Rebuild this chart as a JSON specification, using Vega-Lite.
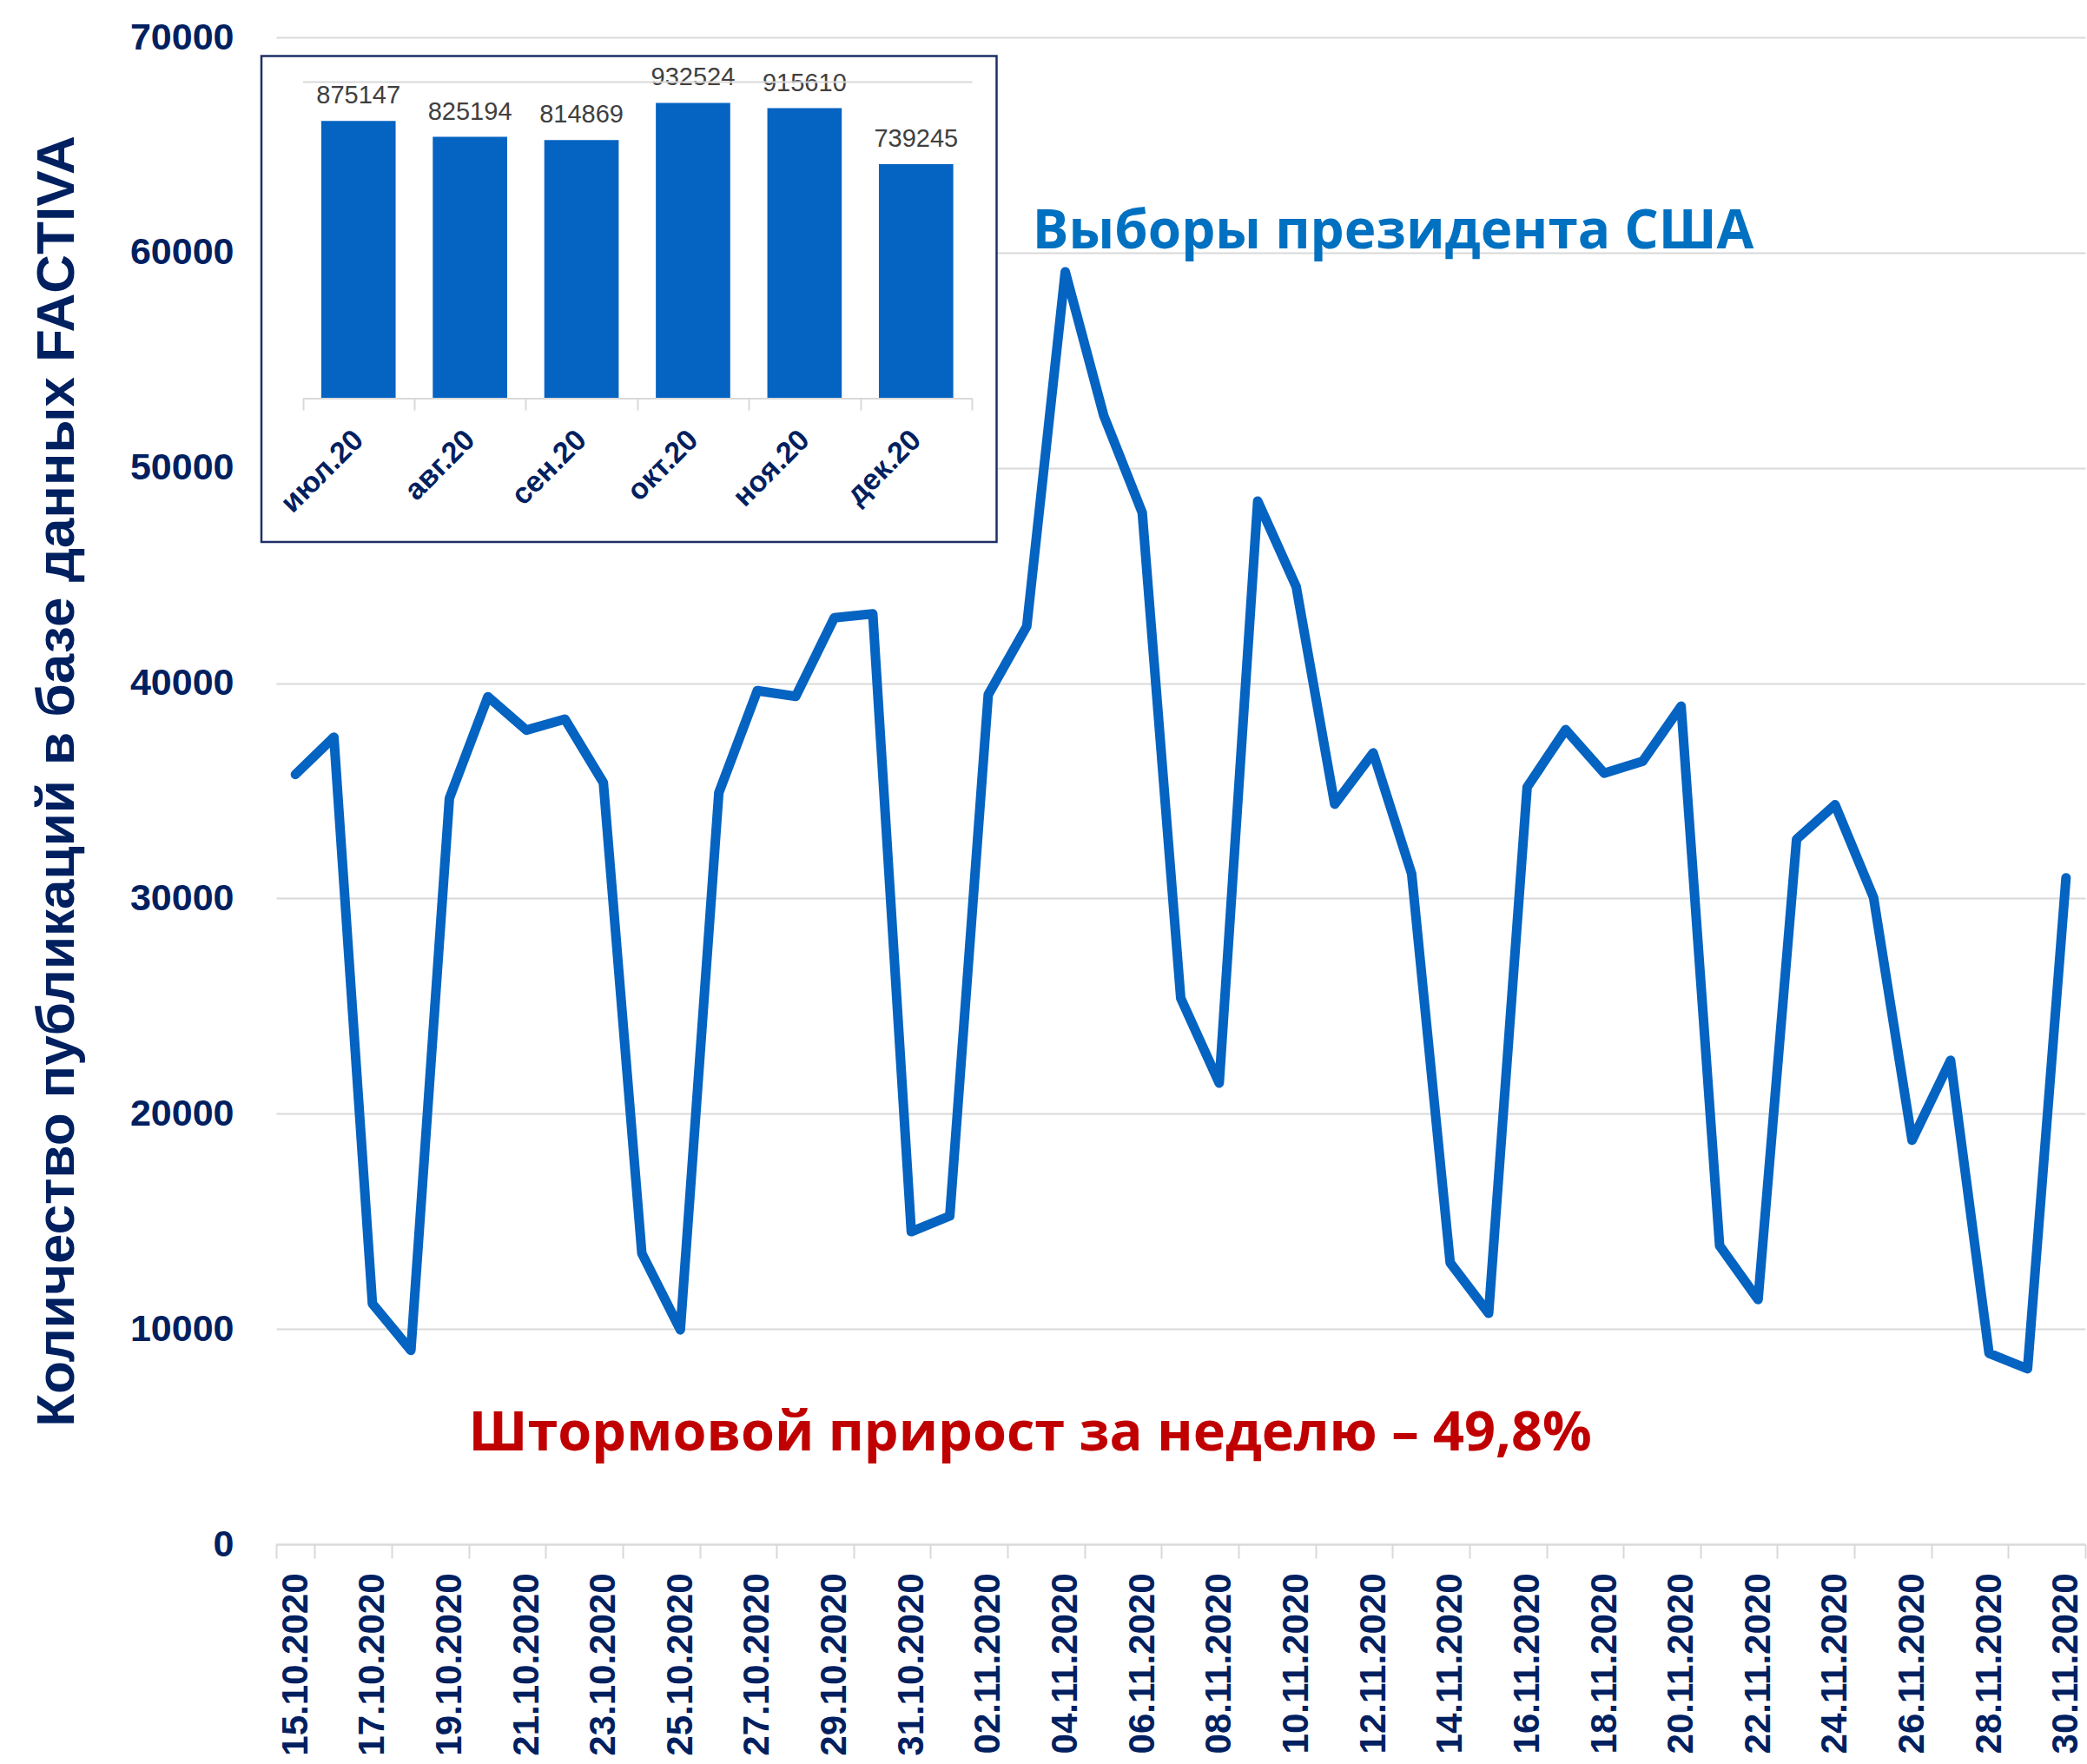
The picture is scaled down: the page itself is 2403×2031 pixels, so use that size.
{
  "$schema": "https://vega.github.io/schema/vega-lite/v6.json",
  "width": 2083,
  "height": 1735,
  "autosize": {"type": "none"},
  "padding": {"left": 318, "top": 43, "right": 2, "bottom": 253},
  "background": "white",
  "config": {"view": {"stroke": null}, "font": "Liberation Sans"},
  "datasets": {
    "daily": [
      {"date": "15.10.2020", "value": 35760},
      {"date": "16.10.2020", "value": 37490},
      {"date": "17.10.2020", "value": 11180},
      {"date": "18.10.2020", "value": 9010},
      {"date": "19.10.2020", "value": 34650},
      {"date": "20.10.2020", "value": 39370},
      {"date": "21.10.2020", "value": 37820},
      {"date": "22.10.2020", "value": 38330},
      {"date": "23.10.2020", "value": 35380},
      {"date": "24.10.2020", "value": 13510},
      {"date": "25.10.2020", "value": 9960},
      {"date": "26.10.2020", "value": 34910},
      {"date": "27.10.2020", "value": 39650},
      {"date": "28.10.2020", "value": 39390},
      {"date": "29.10.2020", "value": 43040},
      {"date": "30.10.2020", "value": 43220},
      {"date": "31.10.2020", "value": 14520},
      {"date": "01.11.2020", "value": 15250},
      {"date": "02.11.2020", "value": 39470},
      {"date": "03.11.2020", "value": 42640},
      {"date": "04.11.2020", "value": 59110},
      {"date": "05.11.2020", "value": 52430},
      {"date": "06.11.2020", "value": 47920},
      {"date": "07.11.2020", "value": 25370},
      {"date": "08.11.2020", "value": 21420},
      {"date": "09.11.2020", "value": 48460},
      {"date": "10.11.2020", "value": 44480},
      {"date": "11.11.2020", "value": 34380},
      {"date": "12.11.2020", "value": 36760},
      {"date": "13.11.2020", "value": 31140},
      {"date": "14.11.2020", "value": 13080},
      {"date": "15.11.2020", "value": 10730},
      {"date": "16.11.2020", "value": 35170},
      {"date": "17.11.2020", "value": 37840},
      {"date": "18.11.2020", "value": 35820},
      {"date": "19.11.2020", "value": 36370},
      {"date": "20.11.2020", "value": 38930},
      {"date": "21.11.2020", "value": 13870},
      {"date": "22.11.2020", "value": 11370},
      {"date": "23.11.2020", "value": 32750},
      {"date": "24.11.2020", "value": 34350},
      {"date": "25.11.2020", "value": 30040},
      {"date": "26.11.2020", "value": 18770},
      {"date": "27.11.2020", "value": 22480},
      {"date": "28.11.2020", "value": 8870},
      {"date": "29.11.2020", "value": 8150},
      {"date": "30.11.2020", "value": 30960}
    ],
    "notes": [
      {"date": "12.11.2020", "value": 60200, "label": "Выборы президента США", "kind": "blue"},
      {"date": "03.11.2020", "value": 4360, "label": "Штормовой прирост за неделю – 49,8%", "kind": "red"}
    ],
    "monthly": [
      {"month": "июл.20", "count": 875147},
      {"month": "авг.20", "count": 825194},
      {"month": "сен.20", "count": 814869},
      {"month": "окт.20", "count": 932524},
      {"month": "ноя.20", "count": 915610},
      {"month": "дек.20", "count": 739245}
    ],
    "frame": [{"x0": 0, "x1": 1, "y0": 0, "y1": 1}]
  },
  "layer": [
    {
      "encoding": {
        "x": {
          "field": "date",
          "type": "nominal",
          "sort": null,
          "scale": {
            "type": "band",
            "paddingInner": 0,
            "paddingOuter": 0,
            "domain": ["15.10.2020","16.10.2020","17.10.2020","18.10.2020","19.10.2020","20.10.2020","21.10.2020","22.10.2020","23.10.2020","24.10.2020","25.10.2020","26.10.2020","27.10.2020","28.10.2020","29.10.2020","30.10.2020","31.10.2020","01.11.2020","02.11.2020","03.11.2020","04.11.2020","05.11.2020","06.11.2020","07.11.2020","08.11.2020","09.11.2020","10.11.2020","11.11.2020","12.11.2020","13.11.2020","14.11.2020","15.11.2020","16.11.2020","17.11.2020","18.11.2020","19.11.2020","20.11.2020","21.11.2020","22.11.2020","23.11.2020","24.11.2020","25.11.2020","26.11.2020","27.11.2020","28.11.2020","29.11.2020","30.11.2020"]
          },
          "axis": {
            "orient": "bottom",
            "values": ["15.10.2020","17.10.2020","19.10.2020","21.10.2020","23.10.2020","25.10.2020","27.10.2020","29.10.2020","31.10.2020","02.11.2020","04.11.2020","06.11.2020","08.11.2020","10.11.2020","12.11.2020","14.11.2020","16.11.2020","18.11.2020","20.11.2020","22.11.2020","24.11.2020","26.11.2020","28.11.2020","30.11.2020"],
            "tickBand": "extent",
            "title": null,
            "grid": false,
            "labelAngle": 270,
            "labelAlign": "right",
            "labelBaseline": "middle",
            "labelFont": "Liberation Sans",
            "labelFontWeight": "bold",
            "labelFontSize": 42,
            "labelColor": "#002060",
            "labelPadding": 17,
            "labelLimit": 0,
            "labelOverlap": false,
            "labelBound": false,
            "tickColor": "#D9D9D9",
            "tickSize": 16,
            "tickWidth": 2,
            "domainColor": "#D9D9D9",
            "domainWidth": 2
          }
        },
        "y": {
          "field": "value",
          "type": "quantitative",
          "scale": {"domain": [0, 70000], "nice": false, "zero": true},
          "axis": {
            "orient": "left",
            "values": [0, 10000, 20000, 30000, 40000, 50000, 60000, 70000],
            "format": "d",
            "grid": true,
            "gridColor": "#D9D9D9",
            "gridWidth": 2,
            "domain": false,
            "ticks": false,
            "labelFont": "Liberation Sans",
            "labelFontWeight": "bold",
            "labelFontSize": 43,
            "labelColor": "#002060",
            "labelPadding": 49,
            "labelBaseline": "middle",
            "title": "Количество публикаций в базе данных FACTIVA",
            "titleFont": "Liberation Sans",
            "titleFontWeight": "bold",
            "titleFontSize": 62,
            "titleColor": "#002060",
            "titleAngle": 270,
            "titleAlign": "center",
            "titleBaseline": "alphabetic",
            "titleLimit": 0,
            "titleX": -234,
            "titleY": 856
          }
        }
      },
      "layer": [
        {
          "data": {"name": "daily"},
          "mark": {"type": "line", "color": "#0563C1", "strokeWidth": 11, "strokeJoin": "round", "strokeCap": "round"}
        },
        {
          "data": {"name": "notes"},
          "transform": [{"filter": "datum.kind === 'blue'"}],
          "mark": {"type": "text", "align": "center", "baseline": "alphabetic", "font": "Open Sans", "fontWeight": "bold", "fontSize": 62, "dx": 23, "color": "#0070C0"},
          "encoding": {"text": {"field": "label", "type": "nominal"}}
        },
        {
          "data": {"name": "notes"},
          "transform": [{"filter": "datum.kind === 'red'"}],
          "mark": {"type": "text", "align": "center", "baseline": "alphabetic", "font": "Open Sans", "fontWeight": "bold", "fontSize": 63, "dx": 4, "color": "#C00000"},
          "encoding": {"text": {"field": "label", "type": "nominal"}}
        }
      ]
    },
    {
      "data": {"name": "frame"},
      "mark": {"type": "rect", "fill": "white", "stroke": "#1F2F66", "strokeWidth": 2.5},
      "encoding": {
        "x": {"field": "x0", "type": "quantitative", "scale": {"domain": [0, 1], "range": [-17, 829.5], "nice": false, "zero": false}, "axis": null},
        "x2": {"field": "x1"},
        "y": {"field": "y0", "type": "quantitative", "scale": {"domain": [0, 1], "range": [581, 21.5], "nice": false, "zero": false}, "axis": null},
        "y2": {"field": "y1"}
      }
    },
    {
      "data": {"name": "monthly"},
      "encoding": {
        "x": {
          "field": "month",
          "type": "nominal",
          "sort": null,
          "scale": {"type": "band", "range": [30.5, 801], "paddingInner": 0, "paddingOuter": 0, "domain": ["июл.20", "авг.20", "сен.20", "окт.20", "ноя.20", "дек.20"]},
          "axis": {
            "orient": "bottom",
            "offset": -1319.5,
            "zindex": 1,
            "tickBand": "extent",
            "title": null,
            "grid": false,
            "labelAngle": 315,
            "labelAlign": "right",
            "labelBaseline": "middle",
            "labelFont": "Liberation Sans",
            "labelFontWeight": "bold",
            "labelFontSize": 34,
            "labelColor": "#002060",
            "labelPadding": 29,
            "labelLimit": 0,
            "labelOverlap": false,
            "tickColor": "#D9D9D9",
            "tickSize": 13.5,
            "tickWidth": 2,
            "domainColor": "#D9D9D9",
            "domainWidth": 2
          }
        },
        "y": {
          "field": "count",
          "type": "quantitative",
          "scale": {"domain": [0, 1000000], "range": [415.5, 50.8], "nice": false, "zero": true},
          "axis": {
            "orient": "left",
            "zindex": 1,
            "values": [1000000],
            "grid": true,
            "gridColor": "#D9D9D9",
            "gridWidth": 2,
            "labels": false,
            "ticks": false,
            "domain": false,
            "title": null
          }
        }
      },
      "layer": [
        {"mark": {"type": "bar", "color": "#0563C1", "width": {"band": 0.667}}},
        {
          "mark": {"type": "text", "baseline": "alphabetic", "dy": -20, "font": "Liberation Sans", "fontSize": 29, "color": "#404040"},
          "encoding": {"text": {"field": "count", "type": "quantitative", "format": "d"}}
        }
      ]
    }
  ],
  "resolve": {
    "scale": {"x": "independent", "y": "independent"},
    "axis": {"x": "independent", "y": "independent"}
  }
}
